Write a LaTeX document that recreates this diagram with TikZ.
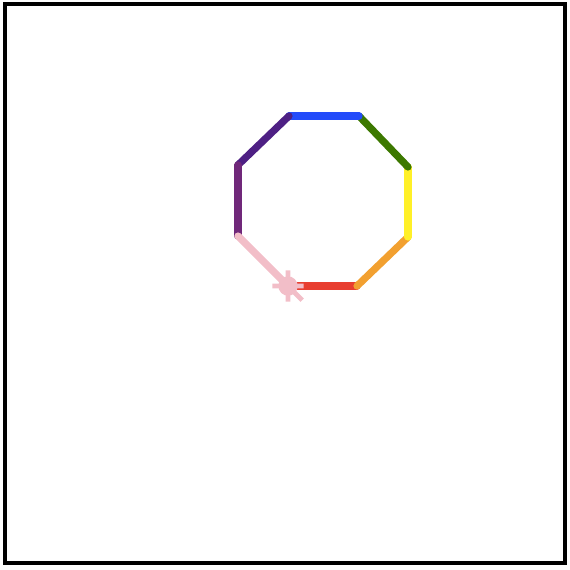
\documentclass[tikz,border=0pt]{standalone}
\usepackage{tikz}
\definecolor{tred}{RGB}{232,62,48}
\definecolor{torange}{RGB}{242,160,48}
\definecolor{tyellow}{RGB}{255,240,40}
\definecolor{tgreen}{RGB}{60,120,0}
\definecolor{tblue}{RGB}{35,75,250}
\definecolor{tindigo}{RGB}{78,32,132}
\definecolor{tviolet}{RGB}{112,40,122}
\definecolor{tpink}{RGB}{242,190,200}

\begin{document}
\begin{tikzpicture}[x=0.01754cm, y=-0.01754cm, side/.style={line width=3.6pt, line cap=round}]
\useasboundingbox (0,0) rectangle (570,570);
\draw[line width=1.7pt] (5,4) rectangle (565,563);
% octagon corners
\coordinate (v0) at (288,286);
\coordinate (v1) at (357,286);
\coordinate (v2) at (408,237);
\coordinate (v3) at (408,167);
\coordinate (v4) at (359,116);
\coordinate (v5) at (289,116);
\coordinate (v6) at (238,165);
\coordinate (v7) at (238,236);
\draw[side, tred] (v0) -- (v1);
\draw[side, torange] (v1) -- (v2);
\draw[side, tyellow] (v2) -- (v3);
\draw[side, tgreen] (v3) -- (v4);
\draw[side, tblue] (v4) -- (v5);
\draw[side, tindigo] (v5) -- (v6);
\draw[side, tviolet] (v6) -- (v7);
\draw[side, tpink] (v7) -- (v0);
% turtle
\begin{scope}[shift={(v0)}, rotate=-45]
\fill[tpink] (0,0) circle[radius=0.17cm];
\draw[tpink, line width=2.4pt] (-11,11) -- (11,-11) (-11,-11) -- (11,11) (0,0) -- (20,0) (0,0) -- (-14,0);
\end{scope}
\end{tikzpicture}
\end{document}
